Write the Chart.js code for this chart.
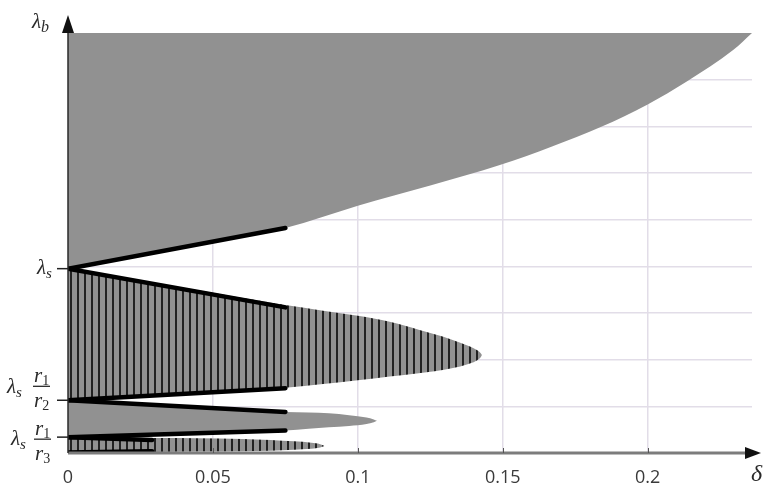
<!DOCTYPE html>
<html>
<head>
<meta charset="utf-8">
<script src="https://cdn.jsdelivr.net/npm/chart.js@4"></script>
<style>
  body { margin: 0; background: #fff; }
</style>
</head>
<body>
<canvas id="chart" width="765" height="483"></canvas>
<script>
// values: delta on x, lambda_b on y (1 unit = 1 grid step)

// upper grey region, lower edge
const topX = [0, 0.0375, 0.075, 0.1, 0.125, 0.149, 0.167, 0.184, 0.2, 0.2135, 0.2296, 0.236];
const topY = [3.95, 4.385, 4.82, 5.3, 5.73, 6.17, 6.57, 6.99, 7.47, 7.96, 8.64, 9.0];

// hatched lobe between lambda_s and lambda_s r1/r2
const midX = [0, 0.0375, 0.075, 0.088, 0.1, 0.111, 0.121, 0.132, 0.1387, 0.1412, 0.1424, 0.1428];
const midUpper = [3.95, 3.56, 3.17, 3.05, 2.94, 2.81, 2.64, 2.44, 2.28, 2.2, 2.14, 2.1];
const midLower = [1.13, 1.26, 1.4, 1.48, 1.56, 1.64, 1.71, 1.81, 1.92, 1.99, 2.05, 2.1];

// grey lobe between lambda_s r1/r2 and lambda_s r1/r3
const lowX = [0, 0.0375, 0.075, 0.083, 0.09, 0.097, 0.103, 0.1055, 0.1066];
const lowUpper = [1.13, 1.0, 0.88, 0.87, 0.85, 0.81, 0.76, 0.72, 0.69];
const lowLower = [0.34, 0.41, 0.48, 0.52, 0.55, 0.58, 0.62, 0.66, 0.69];

// small hatched lobe at the bottom
const botX = [0, 0.03, 0.045, 0.06, 0.07, 0.078, 0.084, 0.087, 0.0885];
const botUpper = [0.34, 0.32, 0.315, 0.3, 0.28, 0.25, 0.22, 0.19, 0.15];
const botLower = [0, 0.02, 0.03, 0.04, 0.05, 0.07, 0.09, 0.12, 0.15];

// thick black straight segments [x0, y0, x1, y1]
const blackSegments = [
  [0, 3.95, 0.075, 4.82],
  [0, 3.95, 0.075, 3.12],
  [0, 1.13, 0.075, 1.39],
  [0, 1.13, 0.075, 0.88],
  [0, 0.34, 0.075, 0.48],
  [0, 0.34, 0.029, 0.28],
  [0, 0.01, 0.029, 0.04]
];

const xTicks = [0, 0.05, 0.1, 0.15, 0.2];
const xTickLabels = ["0", "0.05", "0.1", "0.15", "0.2"];
const yTicks = [3.95, 1.13, 0.34];

const grey = "#919191";
const canvas = document.getElementById("chart");
const ctx0 = canvas.getContext("2d");

function makeHatch() {
  const p = document.createElement("canvas");
  p.width = 7;
  p.height = 8;
  const g = p.getContext("2d");
  g.fillStyle = grey;
  g.fillRect(0, 0, 7, 8);
  g.fillStyle = "#222";
  g.fillRect(0, 0, 2, 8);
  return ctx0.createPattern(p, "repeat");
}
const hatch = makeHatch();

function pts(xs, ys) {
  return xs.map((x, i) => ({ x: x, y: ys[i] }));
}

const edge = {
  borderWidth: 0,
  pointRadius: 0,
  cubicInterpolationMode: "monotone",
  fill: false
};

const datasets = [];
blackSegments.forEach(s => {
  datasets.push({
    data: [{ x: s[0], y: s[1] }, { x: s[2], y: s[3] }],
    borderColor: "#000",
    borderWidth: 4.5,
    borderCapStyle: "round",
    pointRadius: 0,
    fill: false
  });
});
datasets.push({ ...edge, data: pts(topX, topY), fill: "end", backgroundColor: grey });
datasets.push({ ...edge, data: pts(midX, midUpper), fill: "+1", backgroundColor: hatch });
datasets.push({ ...edge, data: pts(midX, midLower) });
datasets.push({ ...edge, data: pts(lowX, lowUpper), fill: "+1", backgroundColor: grey });
datasets.push({ ...edge, data: pts(lowX, lowLower) });
datasets.push({ ...edge, data: pts(botX, botUpper), fill: "+1", backgroundColor: hatch });
datasets.push({ ...edge, data: pts(botX, botLower) });

const gridColor = "#e2dde8";
const textColor = "#2a2a2a";

function it(ctx, txt, x, y, size) {
  ctx.font = "italic " + size + 'px "Liberation Serif"';
  ctx.fillText(txt, x, y);
  return ctx.measureText(txt).width;
}
function up(ctx, txt, x, y, size) {
  ctx.font = size + 'px "Liberation Serif"';
  ctx.fillText(txt, x, y);
  return ctx.measureText(txt).width;
}
function frac(ctx, x, barY, sub2) {
  ctx.fillRect(x, barY - 0.6, 17, 1.3);
  let w = it(ctx, "r", x + 1, barY - 4, 21);
  up(ctx, "1", x + 1 + w, barY - 1, 14);
  w = it(ctx, "r", x + 1, barY + 21, 21);
  up(ctx, sub2, x + 1 + w, barY + 24, 14);
}

const axesPlugin = {
  id: "axesLabels",
  afterDatasetsDraw(chart) {
    const { ctx, chartArea: a, scales: { x, y } } = chart;
    ctx.save();
    // x axis line and arrow
    ctx.strokeStyle = "#7c7c7c";
    ctx.lineWidth = 3;
    ctx.beginPath();
    ctx.moveTo(a.left, a.bottom);
    ctx.lineTo(a.right - 4, a.bottom);
    ctx.stroke();
    ctx.strokeStyle = "#555";
    ctx.lineWidth = 1;
    xTicks.slice(1).forEach(v => {
      const px = Math.round(x.getPixelForValue(v)) + 0.5;
      ctx.beginPath();
      ctx.moveTo(px, a.bottom);
      ctx.lineTo(px, a.bottom - 5);
      ctx.stroke();
    });
    ctx.fillStyle = "#111";
    ctx.beginPath();
    ctx.moveTo(a.right + 9, a.bottom);
    ctx.lineTo(a.right - 7, a.bottom - 6);
    ctx.lineTo(a.right - 7, a.bottom + 6);
    ctx.closePath();
    ctx.fill();
    // y axis line and arrow
    ctx.strokeStyle = "#2a2a2a";
    ctx.lineWidth = 1.5;
    ctx.beginPath();
    ctx.moveTo(a.left, a.bottom);
    ctx.lineTo(a.left, a.top);
    ctx.stroke();
    ctx.beginPath();
    ctx.moveTo(a.left, a.top - 18);
    ctx.lineTo(a.left - 6, a.top);
    ctx.lineTo(a.left + 6, a.top);
    ctx.closePath();
    ctx.fill();
    // y tick marks
    ctx.strokeStyle = "#222";
    yTicks.forEach(v => {
      const py = y.getPixelForValue(v);
      ctx.beginPath();
      ctx.moveTo(a.left - 11, py);
      ctx.lineTo(a.left, py);
      ctx.stroke();
    });
    // y labels
    ctx.fillStyle = textColor;
    ctx.textBaseline = "alphabetic";
    let py = y.getPixelForValue(yTicks[0]);
    let w = it(ctx, "\u03bb", 37, py + 5, 21);
    it(ctx, "s", 37 + w, py + 9, 15);

    py = y.getPixelForValue(yTicks[1]);
    w = it(ctx, "\u03bb", 7, py - 7, 21);
    it(ctx, "s", 7 + w, py - 3, 15);
    frac(ctx, 33, py - 14, "2");

    py = y.getPixelForValue(yTicks[2]);
    w = it(ctx, "\u03bb", 11, py + 8, 21);
    it(ctx, "s", 11 + w, py + 12, 15);
    frac(ctx, 34, py + 2, "3");

    // axis titles
    w = it(ctx, "\u03bb", 32, 28, 21);
    it(ctx, "b", 32 + w, 32, 16);
    it(ctx, "\u03b4", 751, 481, 24);
    ctx.restore();
  }
};

new Chart(canvas, {
  type: "line",
  data: { datasets: datasets },
  options: {
    responsive: false,
    animation: false,
    devicePixelRatio: 1,
    layout: { padding: { left: 0, right: 13, top: 33, bottom: 0 } },
    plugins: {
      legend: { display: false },
      tooltip: { enabled: false },
      filler: { propagate: false }
    },
    scales: {
      x: {
        type: "linear",
        min: 0,
        max: 0.236,
        afterFit: s => { s.height = 30; },
        afterBuildTicks: s => { s.ticks = xTicks.map(v => ({ value: v })); },
        border: { display: false },
        grid: {
          drawTicks: false,
          lineWidth: 1.5,
          color: c => (c.tick && c.tick.value === 0 ? "rgba(0,0,0,0)" : gridColor)
        },
        ticks: {
          padding: 14,
          maxRotation: 0,
          color: "#3a3a3a",
          font: { family: "Open Sans", size: 18 },
          callback: (v, i) => xTickLabels[i]
        }
      },
      y: {
        type: "linear",
        min: 0,
        max: 9,
        afterFit: s => { s.width = 68; },
        border: { display: false },
        grid: {
          drawTicks: false,
          lineWidth: 1.5,
          color: c => (c.tick && (c.tick.value === 0 || c.tick.value === 9) ? "rgba(0,0,0,0)" : gridColor)
        },
        ticks: { stepSize: 1, display: false }
      }
    }
  },
  plugins: [axesPlugin]
});
</script>
</body>
</html>
